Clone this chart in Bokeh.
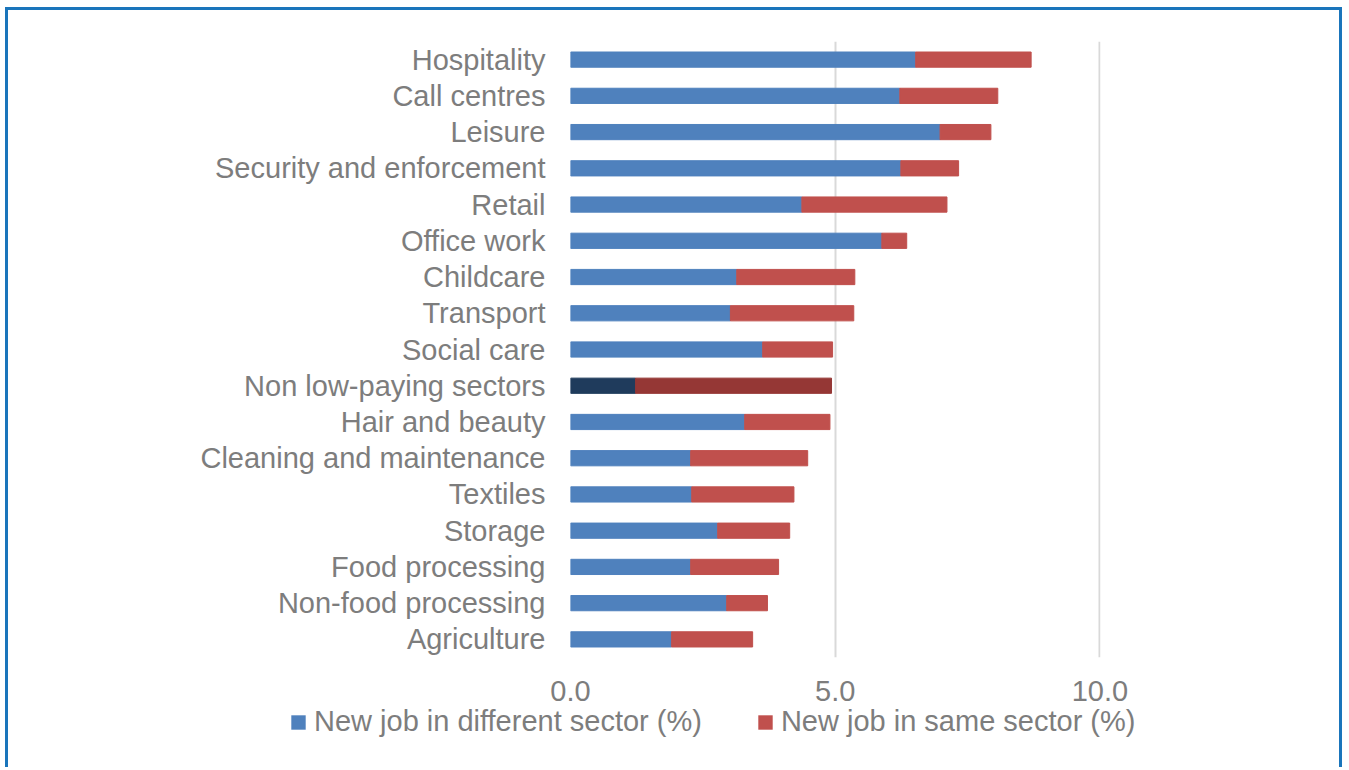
from bokeh.plotting import figure
from bokeh.models import ColumnDataSource, Legend, LegendItem, FixedTicker, Range1d
from bokeh.embed import file_html
from bokeh.resources import INLINE

sectors = ["Hospitality", "Call centres", "Leisure", "Security and enforcement", "Retail",
           "Office work", "Childcare", "Transport", "Social care", "Non low-paying sectors",
           "Hair and beauty", "Cleaning and maintenance", "Textiles", "Storage",
           "Food processing", "Non-food processing", "Agriculture"]
different_sector = [6.52, 6.22, 6.98, 6.24, 4.37, 5.88, 3.14, 3.02, 3.63, 1.23,
                    3.29, 2.27, 2.29, 2.78, 2.27, 2.95, 1.91]
same_sector = [2.18, 1.85, 0.96, 1.09, 2.74, 0.47, 2.23, 2.33, 1.32, 3.70,
               1.61, 2.21, 1.93, 1.36, 1.66, 0.77, 1.53]
x_ticks = [0, 5, 10]
x_tick_labels = {0: "0.0", 5: "5.0", 10: "10.0"}
series_names = ["New job in different sector (%)", "New job in same sector (%)"]

highlight = "Non low-paying sectors"
blue, red = "#4f81bd", "#c0504d"
dblue, dred = "#1f3b5c", "#953735"

src = ColumnDataSource(dict(
    sector=sectors,
    diff=different_sector,
    total=[d + s for d, s in zip(different_sector, same_sector)],
    zero=[0] * len(sectors),
    c1=[dblue if s == highlight else blue for s in sectors],
    c2=[dred if s == highlight else red for s in sectors],
))

border = "3px solid #1a75bb"
W, H1, H2 = 1337, 700, 60
p = figure(width=W, height=H1, y_range=list(reversed(sectors)),
           x_range=Range1d(0, 10.01), output_backend="svg", toolbar_location=None,
           min_border_left=562, min_border_right=W - 1092, min_border_top=31,
           min_border_bottom=H1 - 647)
p.outline_line_color = None
p.styles = {"border-top": border, "border-left": border, "border-right": border,
            "margin-left": "5px", "margin-top": "7px"}

p.hbar(y="sector", left="zero", right="diff", height=0.42, color="c1", source=src)
p.hbar(y="sector", left="diff", right="total", height=0.42, color="c2", source=src)

font = "Liberation Sans"
gray = "#7d7d7d"
fsize = "29px"
p.xaxis.ticker = FixedTicker(ticks=x_ticks)
p.xaxis.major_label_overrides = x_tick_labels
for ax in (p.xaxis[0], p.yaxis[0]):
    ax.axis_line_color = None
    ax.major_tick_line_color = None
    ax.minor_tick_line_color = None
    ax.major_label_text_font = font
    ax.major_label_text_font_size = fsize
    ax.major_label_text_color = gray
p.xaxis.major_label_standoff = 17
p.yaxis.major_label_standoff = 19

p.ygrid.grid_line_color = None
p.xgrid.ticker = FixedTicker(ticks=x_ticks)
p.xgrid.grid_line_color = "#d9d9d9"
p.xgrid.grid_line_width = 2

# legend strip (separate root so that its frame spans the full width)
p2 = figure(width=W, height=H2, x_range=Range1d(0, 1), y_range=Range1d(0, 1),
            x_axis_type=None, y_axis_type=None, output_backend="svg",
            toolbar_location=None, min_border=0)
p2.outline_line_color = None
p2.grid.visible = False
p2.border_fill_alpha = 0
p2.background_fill_alpha = 0
p2.styles = {"border-left": border, "border-right": border, "margin-left": "5px"}
g1 = p2.hbar(y=[0.5], left=[0.5], right=[0.5], height=0.0, fill_color=blue, line_color=None)
g2 = p2.hbar(y=[0.5], left=[0.5], right=[0.5], height=0.0, fill_color=red, line_color=None)
legend = Legend(items=[LegendItem(label=series_names[0], renderers=[g1]),
                       LegendItem(label=series_names[1], renderers=[g2])],
                location=(281, 29), orientation="horizontal",
                glyph_width=18, glyph_height=18, label_standoff=7, spacing=54,
                padding=0, margin=0, border_line_color=None, background_fill_alpha=0,
                label_text_font=font, label_text_font_size=fsize,
                label_text_color=gray)
p2.add_layout(legend, "center")

open("out.html", "w").write(file_html([p, p2], INLINE))
